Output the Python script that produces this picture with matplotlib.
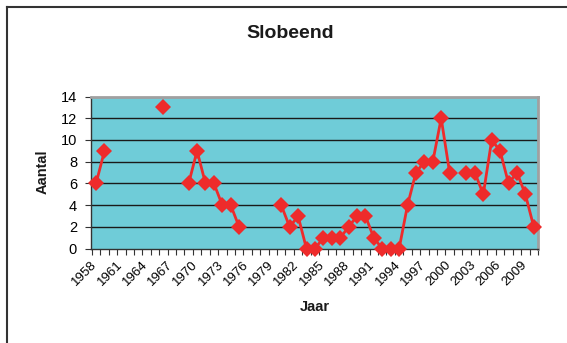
import numpy as np
import matplotlib
matplotlib.use("Agg")
import matplotlib.pyplot as plt
from matplotlib.lines import Line2D

plt.rcParams['font.family'] = ['Liberation Sans', 'DejaVu Sans']

years = list(range(1958, 2011))
counts = {
    1958: 6, 1959: 9, 1966: 13,
    1969: 6, 1970: 9, 1971: 6, 1972: 6, 1973: 4, 1974: 4, 1975: 2,
    1980: 4, 1981: 2, 1982: 3, 1983: 0, 1984: 0, 1985: 1, 1986: 1,
    1987: 1, 1988: 2, 1989: 3, 1990: 3, 1991: 1, 1992: 0, 1993: 0,
    1994: 0, 1995: 4, 1996: 7, 1997: 8, 1998: 8, 1999: 12, 2000: 7,
    2002: 7, 2003: 7, 2004: 5, 2005: 10, 2006: 9, 2007: 6, 2008: 7,
    2009: 5, 2010: 2,
}
values = np.array([counts.get(y, np.nan) for y in years], dtype=float)
label_years = years[::3]
y_ticks = list(range(0, 15, 2))

W, H = 567, 343
fig = plt.figure(figsize=(W / 100, H / 100), dpi=100)
ax = fig.add_axes([91 / W, 1 - 248.7 / H, (538 - 91) / W, (248.7 - 96.5) / H])

ax.set_facecolor('#6FCCD8')
x = np.arange(len(years))
ax.plot(x, values, color='#EE2B2B', lw=2.0, marker='D', markersize=8,
        markeredgewidth=0, zorder=3, clip_on=False)

ax.set_xlim(-0.5, len(years) - 0.5)
ax.set_ylim(0, 14)
ax.set_yticks(y_ticks)
ax.set_yticklabels([str(v) for v in y_ticks], fontsize=10.5)
for v in y_ticks[1:-1]:
    ax.axhline(v, color='#1a1a1a', lw=1.0, zorder=1)

# tick marks between categories, labels on every third year
# (rotated labels end just left of their category centre)
label_offset = -0.6
ax.set_xticks(np.arange(-0.5, len(years), 1.0))
ax.set_xticklabels([])
ax.set_xticks([years.index(y) + label_offset for y in label_years], minor=True)
ax.set_xticklabels([str(y) for y in label_years], minor=True, rotation=45,
                   ha='right', va='top', rotation_mode='anchor', fontsize=9.5)
ax.tick_params(axis='x', which='major', length=4, width=0.8, direction='out', color='#333333')
ax.tick_params(axis='x', which='minor', length=0, pad=7)
ax.tick_params(axis='y', length=4, width=0.8, direction='out', color='#333333', pad=6)

for s in ('top', 'right'):
    ax.spines[s].set_color('#A0A0A0')
    ax.spines[s].set_linewidth(2)
for s in ('left', 'bottom'):
    ax.spines[s].set_color('#333333')
    ax.spines[s].set_linewidth(1)

fig.text(290 / W, 1 - 33 / H, 'Slobeend', ha='center', va='center',
         fontsize=14, fontweight='bold', color='#1a1a1a')
fig.text(43 / W, 1 - 172 / H, 'Aantal', ha='center', va='center', rotation=90,
         fontsize=10.5, fontweight='bold', color='#1a1a1a')
fig.text(315 / W, 1 - 307 / H, 'Jaar', ha='center', va='center',
         fontsize=10.5, fontweight='bold', color='#1a1a1a')

# chart frame
fig.add_artist(Line2D([6.5 / W, 1.0], [1 - 7 / H, 1 - 7 / H], color='#333333', lw=1.5,
                      transform=fig.transFigure))
fig.add_artist(Line2D([6.5 / W, 6.5 / W], [1 - 7 / H, 0.0], color='#333333', lw=1.5,
                      transform=fig.transFigure))

fig.savefig('out.png', dpi=100, facecolor='white')
